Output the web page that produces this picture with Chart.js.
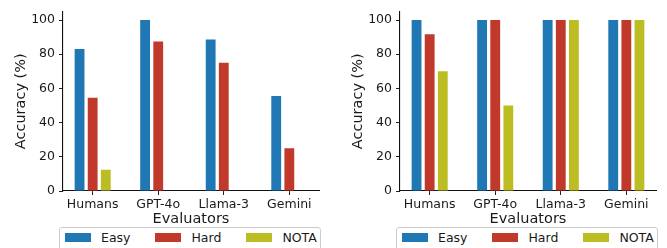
<!DOCTYPE html>
<html>
<head>
<meta charset="utf-8">
<script src="https://cdn.jsdelivr.net/npm/chart.js@4"></script>
<style>
  body { margin: 0; background: #fff; width: 667px; height: 248px; overflow: hidden; position: relative; font-family: "DejaVu Sans", sans-serif; }
  .panel { position: absolute; top: 0; width: 333px; height: 228px; }
  .legend { position: absolute; top: 227px; width: 262px; height: 30px; border: 1px solid #cccccc; border-radius: 3px; box-sizing: border-box; display: flex; gap: 25px; padding: 5px 0 0 5px; font-size: 12.5px; color: #1a1a1a; background: #fff; }
  .legend span.item { display: flex; align-items: center; height: 9px; }
  .legend i { display: inline-block; width: 26px; height: 9px; margin-right: 10px; }
</style>
</head>
<body>

<div class="panel" style="left:0px"><canvas id="chartLeft"></canvas></div>
<div class="panel" style="left:337px"><canvas id="chartRight"></canvas></div>
<div class="legend" id="legendLeft" style="left:59px"></div>
<div class="legend" id="legendRight" style="left:396px"></div>

<script>
// ===============================
// data
// ===============================

const evaluators = ["Humans", "GPT-4o", "Llama-3", "Gemini"];
const seriesNames = ["Easy", "Hard", "NOTA"];
const seriesColors = ["#1f77b4", "#c0392b", "#bcbd22"];

// left panel
const leftEasy = [83, 100, 88.6, 55.5];
const leftHard = [54.5, 87.5, 75, 25];
const leftNota = [12.5, 0, 0, 0];

// right panel
const rightEasy = [100, 100, 100, 100];
const rightHard = [91.7, 100, 100, 100];
const rightNota = [70, 50, 100, 100];

const yTicks = [0, 20, 40, 60, 80, 100];

// ===============================

function toPoints(values) {
    return values.map((v, i) => ({ x: i, y: v }));
}

function makeChart(canvasId, seriesList) {

    const ctx = document.getElementById(canvasId).getContext("2d");

    return new Chart(ctx, {

        type: "bar",

        data: {
            datasets: seriesList.map((values, k) => ({
                label: seriesNames[k],
                data: toPoints(values),
                backgroundColor: seriesColors[k],
                borderWidth: 0,
                categoryPercentage: 0.6,
                barPercentage: 0.75
            }))
        },

        options: {
            responsive: true,
            maintainAspectRatio: false,
            animation: false,
            layout: {
                padding: { top: 11, right: 14, bottom: 0, left: 0 }
            },
            plugins: {
                legend: { display: false },
                tooltip: { enabled: false }
            },
            scales: {
                x: {
                    type: "linear",
                    offset: false,
                    min: -0.4525,
                    max: 3.4525,
                    afterBuildTicks: scale => {
                        scale.ticks = evaluators.map((_, i) => ({ value: i }));
                    },
                    afterFit: scale => { scale.height = 37; },
                    ticks: {
                        callback: v => evaluators[v],
                        color: "#1a1a1a",
                        font: { family: "DejaVu Sans", size: 12.5 },
                        padding: 2,
                        maxRotation: 0,
                        autoSkip: false
                    },
                    grid: {
                        display: true,
                        offset: false,
                        drawOnChartArea: false,
                        drawTicks: true,
                        tickLength: 4,
                        color: "#222"
                    },
                    border: { display: true, color: "#111", width: 1.1 },
                    title: {
                        display: true,
                        text: "Evaluators",
                        color: "#1a1a1a",
                        font: { family: "DejaVu Sans", size: 14.5 },
                        padding: { top: 0, bottom: 0 }
                    }
                },
                y: {
                    min: 0,
                    max: 105,
                    afterBuildTicks: scale => {
                        scale.ticks = yTicks.map(v => ({ value: v }));
                    },
                    afterFit: scale => { scale.width = 63; },
                    ticks: {
                        color: "#1a1a1a",
                        font: { family: "DejaVu Sans", size: 12.5 },
                        padding: 4
                    },
                    grid: {
                        display: true,
                        drawOnChartArea: false,
                        drawTicks: true,
                        tickLength: 4,
                        color: "#222"
                    },
                    border: { display: true, color: "#111", width: 1.1 },
                    title: {
                        display: true,
                        text: "Accuracy (%)",
                        color: "#1a1a1a",
                        font: { family: "DejaVu Sans", size: 14.5 },
                        padding: { top: 13, bottom: 0 }
                    }
                }
            }
        }

    });

}

function buildLegend(id) {

    const box = document.getElementById(id);

    seriesNames.forEach((name, k) => {
        box.innerHTML += `<span class="item"><i style="background:${seriesColors[k]}"></i>${name}</span>`;
    });

}

makeChart("chartLeft", [leftEasy, leftHard, leftNota]);
makeChart("chartRight", [rightEasy, rightHard, rightNota]);

buildLegend("legendLeft");
buildLegend("legendRight");
</script>
</body>
</html>
